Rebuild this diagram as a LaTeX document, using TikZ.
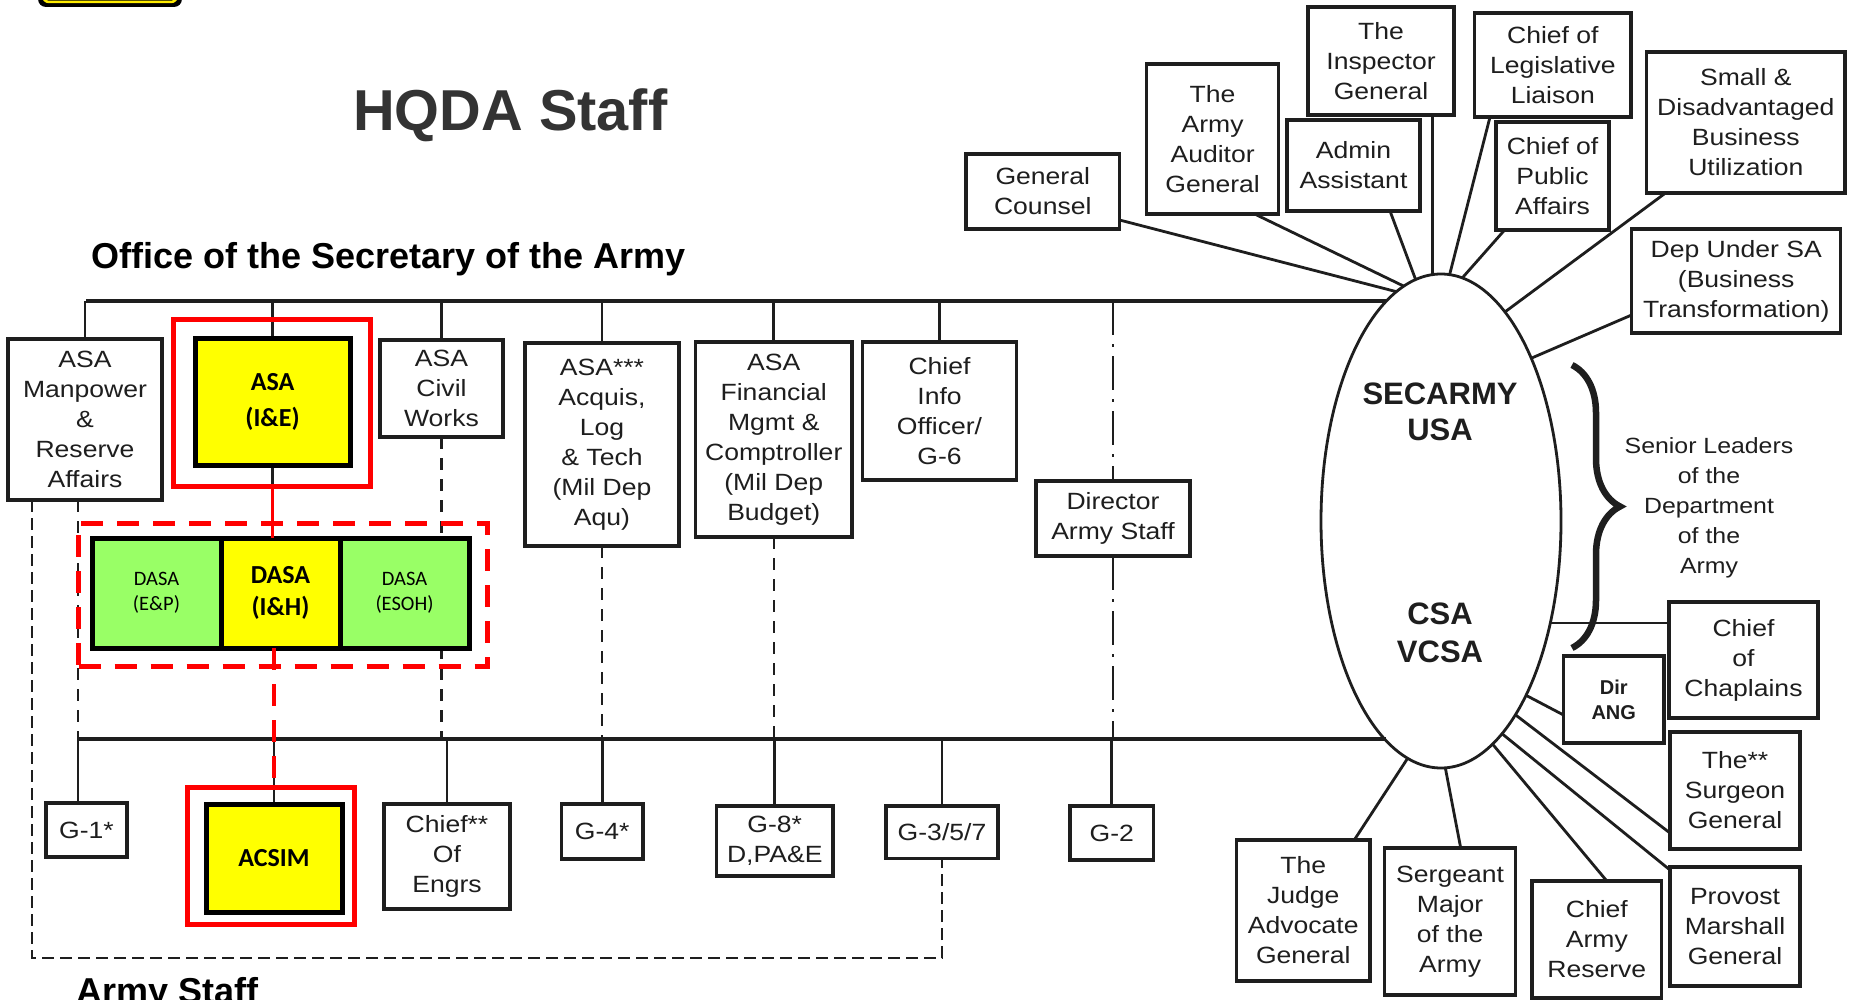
\documentclass[tikz,border=0pt]{standalone}
\usepackage{fontspec}
\setmainfont{Liberation Sans}
\newfontfamily\boxfont{Liberation Sans}[FakeStretch=1.13]
\newfontfamily\calib{Carlito}
\usetikzlibrary{shapes.geometric,decorations.pathreplacing,calc}
\definecolor{ylw}{HTML}{FFFF00}
\definecolor{grn}{HTML}{99FF66}
\definecolor{rd}{HTML}{FF0000}
\definecolor{ink}{HTML}{1E1E1E}
\pgfdeclarelayer{bgz}
\pgfdeclarelayer{lyr}
\pgfsetlayers{bgz,lyr,main}
\begin{document}
\begin{tikzpicture}[x=1pt,y=-1pt,
  lnk/.style={draw=ink, line width=2.8pt},
  dsh/.style={draw=ink, line width=2.2pt, dash pattern=on 12pt off 9pt},
  ddot/.style={draw=ink, line width=2.8pt, dash pattern=on 34pt off 9pt on 3pt off 9pt},
  sdash/.style={draw=ink, line width=1.8pt, dash pattern=on 12pt off 6pt},
  bx/.style={draw=ink, line width=3.2pt, fill=white, align=center, inner sep=0pt, outer sep=0pt, text=ink, font=\boxfont\fontsize{23.5}{30}\selectfont},
  hl/.style={draw=black, line width=5pt, fill=ylw, align=center, inner sep=0pt, outer sep=0pt, font=\calib\bfseries\fontsize{26}{36}\selectfont},
  dasa/.style={draw=black, line width=5pt, fill=grn, align=center, inner sep=0pt, outer sep=0pt, font=\calib\fontsize{20.5}{25}\selectfont},
  redframe/.style={draw=rd, line width=5pt, inner sep=0pt, outer sep=0pt},
  heading/.style={anchor=base west, inner sep=0pt, text=black, font=\bfseries\fontsize{36}{40}\selectfont},
  ]
\useasboundingbox (0,0) rectangle (1851,1000);
\begin{pgfonlayer}{bgz}
\fill[white] (0,0) rectangle (1851,1000);
\end{pgfonlayer}

% logo remnant at top left
\fill[black, rounded corners=8pt] (38,-40) rectangle (182,7);
\draw[ylw!85!orange, line width=2.5pt, rounded corners=6pt] (43,-40) rectangle (177,2);

% titles
\node[anchor=base west, inner sep=0pt, text=black!80, font=\bfseries\fontsize{57.7}{60}\selectfont] (title) at (353,130.7) {HQDA Staff};
\node[heading] (osa) at (91.5,268.3) {Office of the Secretary of the Army};
\node[heading] (ast) at (76.5,1003.5) {Army Staff};

% central ellipse
\node[draw=ink, line width=2.8pt, ellipse, minimum width=240pt, minimum height=494pt, inner sep=0pt, outer sep=0pt] (ell) at (1441,521) {};
\node[align=center, text=ink, font=\bfseries\fontsize{31}{36}\selectfont] (secusa) at (1440,412) {SECARMY\\USA};
\node[align=center, text=ink, font=\bfseries\fontsize{31}{38}\selectfont] (csa) at (1440,633) {CSA\\VCSA};

% secretariat row
\node[bx, minimum width=154pt, minimum height=161pt] (asamp) at (85,419.5) {ASA\\Manpower\\\&\\Reserve\\Affairs};
\node[hl, minimum width=155pt, minimum height=127pt] (asaie) at (272.5,401.5) {ASA\\(I\&E)};
\node[redframe, minimum width=197pt, minimum height=167pt] (asaiefr) at (271.5,402.5) {};
\node[bx, minimum width=123pt, minimum height=97pt] (civil) at (441.5,388.5) {ASA\\Civil\\Works};
\node[bx, minimum width=154pt, minimum height=203pt] (acq) at (602,444.5) {ASA***\\Acquis,\\Log\\\& Tech\\(Mil Dep\\Aqu)};
\node[bx, minimum width=156.5pt, minimum height=195pt] (fin) at (773.75,439.5) {ASA\\Financial\\Mgmt \&\\Comptroller\\(Mil Dep\\Budget)};
\node[bx, minimum width=154pt, minimum height=138pt] (cio) at (939.5,411) {Chief\\Info\\Officer/\\G-6};
\node[bx, minimum width=154pt, minimum height=75pt] (das) at (1113,518.5) {Director\\Army Staff};

% DASA row
\node[dasa, minimum width=129pt, minimum height=110pt] (dep1) at (156.5,593) {DASA\\(E\&P)};
\node[dasa, minimum width=129pt, minimum height=110pt] (desoh) at (404.5,593) {DASA\\(ESOH)};
\node[hl, font=\calib\bfseries\fontsize{26}{32}\selectfont, minimum width=119pt, minimum height=110pt] (dih) at (280.5,593) {DASA\\(I\&H)};
\node[redframe, dash pattern=on 22pt off 14pt, minimum width=408.5pt, minimum height=143pt] (dfr) at (282.75,594.5) {};

% army staff row
\node[bx, minimum width=81pt, minimum height=54pt] (g1) at (86.5,830) {G-1*};
\node[hl, minimum width=136pt, minimum height=108pt] (acsim) at (274,858) {ACSIM};
\node[redframe, minimum width=167pt, minimum height=137pt] (acsimfr) at (270.5,855.5) {};
\node[bx, minimum width=126pt, minimum height=105pt] (engrs) at (447,856.5) {Chief**\\Of\\Engrs};
\node[bx, minimum width=81.5pt, minimum height=55pt] (g4) at (602.25,831.5) {G-4*};
\node[bx, minimum width=116.5pt, minimum height=70pt] (g8) at (774.75,841) {G-8*\\D,PA\&E};
\node[bx, minimum width=112pt, minimum height=52.6pt] (g357) at (942,832.3) {G-3/5/7};
\node[bx, minimum width=83.6pt, minimum height=54pt] (g2) at (1111.8,833) {G-2};

% personal staff, top
\node[bx, minimum width=153.5pt, minimum height=75pt] (gc) at (1042.75,191.5) {General\\Counsel};
\node[bx, minimum width=132.2pt, minimum height=150pt] (aud) at (1212.6,139) {The\\Army\\Auditor\\General};
\node[bx, minimum width=146pt, minimum height=108pt] (ig) at (1381,61) {The\\Inspector\\General};
\node[bx, minimum width=133pt, minimum height=91pt] (adm) at (1353.5,165.5) {Admin\\Assistant};
\node[bx, minimum width=156.3pt, minimum height=104pt] (leg) at (1552.85,65) {Chief of\\Legislative\\Liaison};
\node[bx, minimum width=113pt, minimum height=108pt] (pub) at (1552.5,176) {Chief of\\Public\\Affairs};
\node[bx, minimum width=198.4pt, minimum height=141pt] (sdb) at (1745.8,122.5) {Small \&\\Disadvantaged\\Business\\Utilization};
\node[bx, minimum width=209.2pt, minimum height=104pt] (dus) at (1736.2,281) {Dep Under SA\\(Business\\Transformation)};

% personal staff, right and bottom
\node[align=center, text=ink, font=\boxfont\fontsize{22}{30}\selectfont] (sl) at (1709,508) {Senior Leaders\\of the\\Department\\of the\\Army};
\node[bx, minimum width=149pt, minimum height=116pt] (chap) at (1743.5,660) {Chief\\of\\Chaplains};
\node[bx, font=\bfseries\fontsize{20}{25}\selectfont, minimum width=100.5pt, minimum height=87pt] (ang) at (1613.75,699.5) {Dir\\ANG};
\node[bx, minimum width=130pt, minimum height=117pt] (surg) at (1735,790.5) {The**\\Surgeon\\General};
\node[bx, minimum width=130pt, minimum height=119pt] (prov) at (1735,926.5) {Provost\\Marshall\\General};
\node[bx, minimum width=129.6pt, minimum height=117pt] (res) at (1596.8,939.5) {Chief\\Army\\Reserve};
\node[bx, minimum width=130.8pt, minimum height=147pt] (sgt) at (1450.1,921.5) {Sergeant\\Major\\of the\\Army};
\node[bx, minimum width=133.5pt, minimum height=141pt] (jag) at (1303.25,910.5) {The\\Judge\\Advocate\\General};

\coordinate (tl) at (86,301);
\coordinate (bl) at (78,739);
\coordinate (sa) at (32,958);
\coordinate (bt) at (1572,365);
\coordinate (bb) at (1572,648);

\begin{pgfonlayer}{lyr}
% main horizontal lines
\draw[lnk, line width=3.2pt] (tl) -- (tl -| ell.104);
\draw[lnk, line width=3.2pt] (bl) -- (bl -| ell.256);
% secretariat ticks
\foreach \n in {asamp,asaie,civil,acq,fin,cio} \draw[lnk] (\n.north) -- (\n.north |- tl);
\draw[ddot] (das.north |- tl) -- (das.north);
\draw[ddot] (das.south) -- (das.south |- bl);
% army staff ticks
\foreach \n in {acsim,engrs,g4,g8,g357,g2} \draw[lnk] (\n.north) -- (\n.north |- bl);
\draw[lnk] (g1.north -| bl) -- (bl);
% dashed verticals
\foreach \n in {civil,acq,fin} \draw[dsh] (\n.south) -- (\n.south |- bl);
\draw[dsh] (asamp.south -| bl) -- (bl);
\draw[lnk] (asaie.south) -- (asaie.south |- asaiefr.south);
% army staff boundary
\draw[sdash] (asamp.south -| sa) -- (sa) -- (sa -| g357.south) -- (g357.south);
% connectors to the senior leaders
\draw[lnk] (ell.101) -- ($(gc.south east)+(0,-9)$);
\draw[lnk] (ell.99) -- ($(aud.south)+(42,0)$);
\draw[lnk] (ell.96) -- ($(adm.south)+(36.5,0)$);
\draw[lnk] (ell.92) -- (ell.92 |- ig.south);
\draw[lnk] (ell.88) -- ($(leg.south)+(-62.85,0)$);
\draw[lnk] (ell.85) -- ($(pub.south)+(-47.9,0)$);
\draw[lnk] (ell.73) -- ($(sdb.south)+(-80.3,0)$);
\draw[lnk] (ell.61) -- ($(dus.west)+(0,34)$);
\draw[lnk] (ell.317) -- (ell.317 -| chap.west);
\draw[lnk] (ell.296) -- ($(ang.west)+(0,15.5)$);
\draw[lnk] (ell.291) -- ($(surg.west)+(0,42.5)$);
\draw[lnk] (ell.286) -- ($(prov.north west)+(0,3)$);
\draw[lnk] (ell.283) -- ($(res.north)+(10,0)$);
\draw[lnk] (ell.271) -- ($(sgt.north)+(10.6,0)$);
\draw[lnk] (ell.262) -- ($(jag.north)+(51,0)$);
\end{pgfonlayer}

% red links
\draw[rd, line width=3pt] (asaie.south |- asaiefr.south) -- (asaie.south |- dih.north);
\draw[rd, line width=4.5pt, dash pattern=on 22pt off 14pt] (acsim.north |- dih.south) -- (acsim.north |- acsimfr.north);

% brace
\draw[ink, line width=6.5pt, decorate, decoration={brace, amplitude=48pt}] (bt) -- (bb);
\end{tikzpicture}
\end{document}
